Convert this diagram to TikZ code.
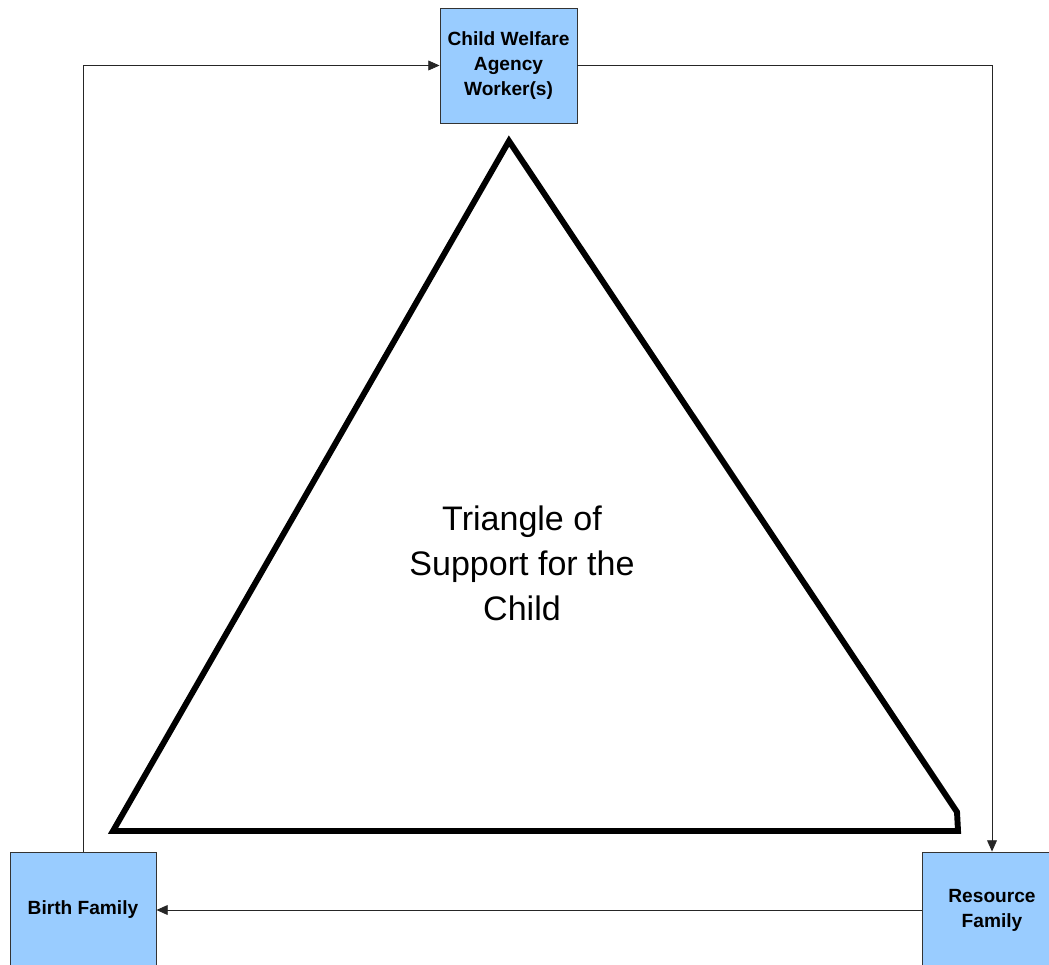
\documentclass[tikz,border=0pt]{standalone}
\usepackage{fontspec}
\setmainfont{Liberation Sans}
\usetikzlibrary{arrows.meta}

\tikzset{
  party/.style={draw=black!80, fill={rgb,255:red,153;green,204;blue,255}, line width=0.6pt,
    align=center, inner sep=2pt, font=\bfseries\fontsize{13.6}{17.7}\selectfont},
  link/.style={draw=black!85, line width=0.6pt, -{Triangle[length=8pt,width=7pt]}},
}

\begin{document}
\begin{tikzpicture}[x=0.025cm, y=-0.025cm]
\useasboundingbox (0,0) rectangle (1049,964);
\node[party, minimum width=3.425cm, minimum height=2.875cm] (cwa) at (508.5,65.5) {Child Welfare\\Agency\\Worker(s)};
\node[party, minimum width=3.65cm, minimum height=2.9cm] (birth) at (83,910) {Birth Family};
\node[party, minimum width=3.5cm, minimum height=2.9cm] (resource) at (992,910) {Resource\\Family};
\draw[link] (birth.north) |- (cwa.west);
\draw[link] (cwa.east) -| (resource.north);
\draw[link] (resource.west) -- (birth.east);
\draw[line width=4.2pt] (509,141) -- (957,812) -- (958,831) -- (113,831) -- cycle;
\node[align=center, font=\fontsize{24.2}{31.9}\selectfont] (label) at (522,563) {Triangle of\\Support for the\\Child};
\end{tikzpicture}
\end{document}
